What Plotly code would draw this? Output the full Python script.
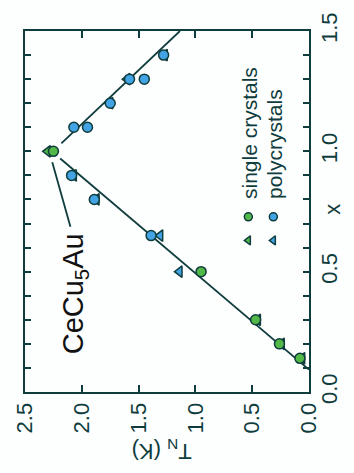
import plotly.graph_objects as go

# Néel temperature T_N vs Au concentration x in CeCu(6-x)Au(x)
# single crystals
sc_circ_x = [0.14, 0.20, 0.30, 0.50, 1.00]
sc_circ_T = [0.08, 0.26, 0.47, 0.95, 2.25]
sc_tri_x = [0.14, 0.20, 0.30, 1.00]
sc_tri_T = [0.06, 0.24, 0.45, 2.30]
# polycrystals
pc_circ_x = [0.65, 0.80, 0.90, 1.10, 1.10, 1.20, 1.30, 1.30, 1.40]
pc_circ_T = [1.39, 1.89, 2.09, 2.07, 1.95, 1.75, 1.58, 1.45, 1.28]
pc_tri_x = [0.50, 0.65, 0.80, 0.90, 1.20, 1.30, 1.40]
pc_tri_T = [1.14, 1.31, 1.87, 2.07, 1.75, 1.60, 1.27]
# guide lines (composition, T_N endpoints)
low_x = [0.093, 0.97]
low_T = [0.00, 2.19]
up_x = [1.50, 1.033]
up_T = [1.136, 2.18]
# leader line to the CeCu5Au point
lead_x = [0.955, 0.687]
lead_T = [2.26, 2.10]

T_ticks = [0.0, 0.5, 1.0, 1.5, 2.0, 2.5]
x_ticks = [0.0, 0.5, 1.0, 1.5]

INK = "#0f3c3c"
GREEN = "#52b848"
BLUE = "#42a4e4"
FONT = "Liberation Sans, Arial, sans-serif"

fig = go.Figure()

# The figure is laid out turned a quarter turn: T_N runs along the
# horizontal axis (reversed) and x along the vertical axis on the right.
for xs, ts in ((low_x, low_T), (up_x, up_T), (lead_x, lead_T)):
    fig.add_trace(go.Scatter(x=ts, y=xs, mode="lines",
                             line=dict(color=INK, width=1.8),
                             showlegend=False, hoverinfo="skip"))

def pts(xs, ts, sym, col, size=10):
    fig.add_trace(go.Scatter(
        x=ts, y=xs, mode="markers", showlegend=False,
        marker=dict(symbol=sym, size=size, color=col,
                    line=dict(color=INK, width=1.5)),
        cliponaxis=False))

pts(sc_tri_x, sc_tri_T, "triangle-left", GREEN)
pts(pc_tri_x, pc_tri_T, "triangle-left", BLUE)
pts(sc_circ_x, sc_circ_T, "circle", GREEN)
pts(pc_circ_x, pc_circ_T, "circle", BLUE)

# key markers
key_T = {"sc": 0.534, "pc": 0.314}
key_x = {"circle": 0.728, "tri": 0.630}
pts([key_x["circle"]], [key_T["sc"]], "circle", GREEN, 8)
pts([key_x["tri"]], [key_T["sc"]], "triangle-left", GREEN, 8)
pts([key_x["circle"]], [key_T["pc"]], "circle", BLUE, 8)
pts([key_x["tri"]], [key_T["pc"]], "triangle-left", BLUE, 8)

ann = []
ann.append(dict(x=0.525, y=0.795, xref="x", yref="y", text="single crystals",
                textangle=-90, showarrow=False, xanchor="center", yanchor="bottom",
                font=dict(size=21, color=INK, family=FONT)))
ann.append(dict(x=0.305, y=0.795, xref="x", yref="y", text="polycrystals",
                textangle=-90, showarrow=False, xanchor="center", yanchor="bottom",
                font=dict(size=21, color=INK, family=FONT)))
ann.append(dict(x=2.06, y=0.41, xref="x", yref="y", text="CeCu<sub>5</sub>Au",
                textangle=-90, showarrow=False, xanchor="center", yanchor="middle",
                font=dict(size=29, color="#111", family=FONT)))
ann.append(dict(x=0.48, y=-0.16, xref="paper", yref="paper", text="T<sub>N</sub> (K)",
                textangle=180, showarrow=False, xanchor="center", yanchor="middle",
                font=dict(size=22, color=INK, family=FONT)))
ann.append(dict(x=1.085, y=0.505, xref="paper", yref="paper", text="x",
                textangle=-90, showarrow=False, xanchor="center", yanchor="middle",
                font=dict(size=22, color=INK, family=FONT)))

fig.update_layout(
    width=354, height=473,
    margin=dict(l=20, r=39, t=22, b=81),
    paper_bgcolor="#fdfefe", plot_bgcolor="#fdfefe",
    annotations=ann,
    xaxis=dict(range=[2.5, 0.0], tickvals=T_ticks, tickformat=".1f",
               ticks="inside", ticklen=7, tickwidth=1.5, tickcolor=INK,
               showline=True, linecolor=INK, linewidth=2, mirror="allticks",
               showgrid=False, zeroline=False, tickangle=-90,
               tickfont=dict(size=22, color=INK, family=FONT)),
    yaxis=dict(range=[0.0, 1.5], tickvals=x_ticks, tickformat=".1f", side="right",
               ticks="inside", ticklen=6, tickwidth=1.5, tickcolor=INK,
               minor=dict(dtick=0.1, ticks="inside", ticklen=6, tickwidth=1.5,
                          tickcolor=INK, showgrid=False),
               showline=True, linecolor=INK, linewidth=2, mirror="allticks",
               showgrid=False, zeroline=False, tickangle=-90,
               tickfont=dict(size=22, color=INK, family=FONT)),
)

fig.write_html("out.html")
